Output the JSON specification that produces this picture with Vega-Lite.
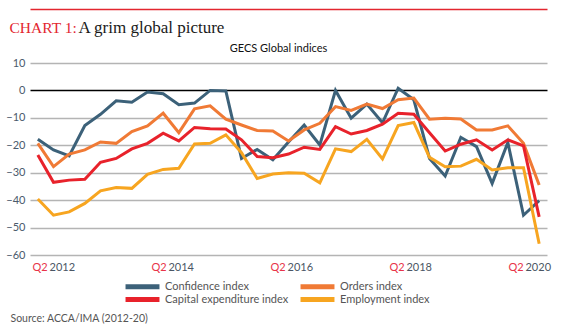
{
  "$schema": "https://vega.github.io/schema/vega-lite/v6.json",
  "autosize": {"type": "none"},
  "width": 517,
  "height": 192,
  "padding": {"left": 30, "top": 63, "right": 21, "bottom": 81},
  "background": "white",
  "config": {"view": {"stroke": null}},
  "data": {"values": [
    {"q": 0, "quarter": "Q2 2012", "Confidence index": -17.8, "Orders index": -19.3, "Capital expenditure index": -23.5, "Employment index": -39.6},
    {"q": 1, "quarter": "Q3 2012", "Confidence index": -21.7, "Orders index": -27.8, "Capital expenditure index": -33.5, "Employment index": -45.5},
    {"q": 2, "quarter": "Q4 2012", "Confidence index": -23.9, "Orders index": -23.2, "Capital expenditure index": -32.7, "Employment index": -44.3},
    {"q": 3, "quarter": "Q1 2013", "Confidence index": -12.8, "Orders index": -21.7, "Capital expenditure index": -32.4, "Employment index": -41.2},
    {"q": 4, "quarter": "Q2 2013", "Confidence index": -8.7, "Orders index": -18.8, "Capital expenditure index": -26.2, "Employment index": -36.6},
    {"q": 5, "quarter": "Q3 2013", "Confidence index": -3.8, "Orders index": -19.3, "Capital expenditure index": -24.8, "Employment index": -35.4},
    {"q": 6, "quarter": "Q4 2013", "Confidence index": -4.3, "Orders index": -15.0, "Capital expenditure index": -21.3, "Employment index": -35.7},
    {"q": 7, "quarter": "Q1 2014", "Confidence index": -0.6, "Orders index": -12.9, "Capital expenditure index": -19.3, "Employment index": -30.6},
    {"q": 8, "quarter": "Q2 2014", "Confidence index": -1.2, "Orders index": -8.3, "Capital expenditure index": -15.6, "Employment index": -28.8},
    {"q": 9, "quarter": "Q3 2014", "Confidence index": -5.2, "Orders index": -15.4, "Capital expenditure index": -18.4, "Employment index": -28.4},
    {"q": 10, "quarter": "Q4 2014", "Confidence index": -4.6, "Orders index": -6.7, "Capital expenditure index": -13.5, "Employment index": -19.5},
    {"q": 11, "quarter": "Q1 2015", "Confidence index": 0.0, "Orders index": -5.6, "Capital expenditure index": -14.0, "Employment index": -19.3},
    {"q": 12, "quarter": "Q2 2015", "Confidence index": -0.2, "Orders index": -10.5, "Capital expenditure index": -14.1, "Employment index": -16.2},
    {"q": 13, "quarter": "Q3 2015", "Confidence index": -24.8, "Orders index": -12.6, "Capital expenditure index": -18.0, "Employment index": -22.7},
    {"q": 14, "quarter": "Q4 2015", "Confidence index": -21.5, "Orders index": -14.6, "Capital expenditure index": -24.1, "Employment index": -32.1},
    {"q": 15, "quarter": "Q1 2016", "Confidence index": -25.3, "Orders index": -14.8, "Capital expenditure index": -24.5, "Employment index": -30.5},
    {"q": 16, "quarter": "Q2 2016", "Confidence index": -18.8, "Orders index": -18.4, "Capital expenditure index": -23.2, "Employment index": -30.0},
    {"q": 17, "quarter": "Q3 2016", "Confidence index": -12.6, "Orders index": -14.4, "Capital expenditure index": -20.7, "Employment index": -30.2},
    {"q": 18, "quarter": "Q4 2016", "Confidence index": -19.9, "Orders index": -12.0, "Capital expenditure index": -21.5, "Employment index": -33.7},
    {"q": 19, "quarter": "Q1 2017", "Confidence index": 0.0, "Orders index": -5.9, "Capital expenditure index": -13.2, "Employment index": -21.3},
    {"q": 20, "quarter": "Q2 2017", "Confidence index": -10.1, "Orders index": -7.3, "Capital expenditure index": -15.9, "Employment index": -22.3},
    {"q": 21, "quarter": "Q3 2017", "Confidence index": -5.0, "Orders index": -5.0, "Capital expenditure index": -14.6, "Employment index": -17.8},
    {"q": 22, "quarter": "Q4 2017", "Confidence index": -11.8, "Orders index": -6.6, "Capital expenditure index": -12.3, "Employment index": -25.0},
    {"q": 23, "quarter": "Q1 2018", "Confidence index": 0.8, "Orders index": -3.4, "Capital expenditure index": -8.3, "Employment index": -12.8},
    {"q": 24, "quarter": "Q2 2018", "Confidence index": -3.4, "Orders index": -2.8, "Capital expenditure index": -8.7, "Employment index": -11.7},
    {"q": 25, "quarter": "Q3 2018", "Confidence index": -24.8, "Orders index": -10.5, "Capital expenditure index": -15.4, "Employment index": -24.4},
    {"q": 26, "quarter": "Q4 2018", "Confidence index": -31.2, "Orders index": -10.1, "Capital expenditure index": -22.1, "Employment index": -27.8},
    {"q": 27, "quarter": "Q1 2019", "Confidence index": -17.1, "Orders index": -10.4, "Capital expenditure index": -19.6, "Employment index": -27.6},
    {"q": 28, "quarter": "Q2 2019", "Confidence index": -20.5, "Orders index": -14.4, "Capital expenditure index": -18.0, "Employment index": -25.1},
    {"q": 29, "quarter": "Q3 2019", "Confidence index": -33.9, "Orders index": -14.4, "Capital expenditure index": -21.7, "Employment index": -29.0},
    {"q": 30, "quarter": "Q4 2019", "Confidence index": -19.0, "Orders index": -12.9, "Capital expenditure index": -18.0, "Employment index": -28.2},
    {"q": 31, "quarter": "Q1 2020", "Confidence index": -45.5, "Orders index": -19.3, "Capital expenditure index": -20.2, "Employment index": -28.2},
    {"q": 32, "quarter": "Q2 2020", "Confidence index": -40.2, "Orders index": -34.5, "Capital expenditure index": -46.1, "Employment index": -55.9}
  ]},
  "transform": [
    {"fold": ["Confidence index", "Orders index", "Capital expenditure index", "Employment index"], "as": ["series", "value"]}
  ],
  "layer": [
    {
      "mark": {"type": "line", "strokeWidth": 3, "strokeJoin": "miter"},
      "encoding": {
        "x": {
          "field": "q", "type": "quantitative",
          "scale": {"domain": [-0.5, 32.5], "nice": false, "zero": false},
          "axis": {
            "orient": "bottom",
            "values": [-0.37, 7.22, 14.82, 22.41, 30.01],
            "labelExpr": "'Q2'",
            "labelAlign": "left", "labelFlush": false, "labelOverlap": false, "labelBound": false,
            "labelColor": "#e8334a", "labelFont": "Lato", "labelFontSize": 11, "labelPadding": 6,
            "ticks": false, "domain": false, "grid": false,
            "title": "Source: ACCA/IMA (2012-20)",
            "titleX": -20, "titleY": 66, "titleAlign": "left", "titleBaseline": "alphabetic", "titleAnchor": null,
            "titleFont": "Lato", "titleFontSize": 10.5, "titleFontWeight": "normal", "titleColor": "#555555"
          }
        },
        "y": {
          "field": "value", "type": "quantitative",
          "scale": {"domain": [-60, 10], "nice": false, "zero": false},
          "axis": {
            "values": [-60, -50, -40, -30, -20, -10, 0, 10],
            "grid": true,
            "gridColor": {"condition": {"test": "datum.value === 0", "value": "#000000"}, "value": "#b4b4b4"},
            "gridWidth": 1.5,
            "ticks": false, "domain": false,
            "labelPadding": 5, "labelColor": "#4a5a6c", "labelFont": "Lato", "labelFontSize": 11,
            "title": "CHART 1:", "titleAngle": 0, "titleX": -21, "titleY": -31,
            "titleAlign": "left", "titleBaseline": "alphabetic", "titleAnchor": null,
            "titleColor": "#e3262f", "titleFont": "Liberation Serif", "titleFontSize": 15.5, "titleFontWeight": "normal"
          }
        },
        "color": {
          "field": "series", "type": "nominal",
          "scale": {
            "domain": ["Confidence index", "Orders index", "Capital expenditure index", "Employment index"],
            "range": ["#3c6179", "#f07a35", "#e8222b", "#f7a520"]
          },
          "legend": {
            "orient": "none", "legendX": 107, "legendY": 218,
            "direction": "horizontal", "columns": 2, "title": null,
            "symbolType": "M-6,-0.85H6V0.85H-6Z", "symbolSize": 32, "symbolStrokeWidth": 0,
            "labelFont": "Lato", "labelFontSize": 11, "labelColor": "#555555", "labelOffset": 17,
            "columnPadding": 11, "rowPadding": 1,
            "encode": {"symbols": {"update": {"fill": {"scale": "color", "field": "value"}, "fillOpacity": {"value": 1}, "strokeWidth": {"value": 0}}}}
          }
        }
      }
    },
    {
      "mark": {"type": "line", "opacity": 0},
      "encoding": {
        "x": {
          "field": "q", "type": "quantitative",
          "axis": {
            "orient": "bottom",
            "values": [-0.37, 7.22, 14.82, 22.41, 30.01],
            "labelExpr": "['2012','2014','2016','2018','2020'][round((datum.value + 0.37) / 7.595)]",
            "labelAlign": "left", "labelOffset": 17, "labelFlush": false, "labelOverlap": false, "labelBound": false,
            "labelColor": "#4a5664", "labelFont": "Lato", "labelFontSize": 11, "labelPadding": 6,
            "ticks": false, "domain": false, "grid": false, "title": null
          }
        },
        "y": {
          "field": "value", "type": "quantitative",
          "axis": {
            "orient": "right", "labels": false, "ticks": false, "domain": false, "grid": false,
            "title": "GECS Global indices", "titleAngle": 0, "titleX": -269, "titleY": -12,
            "titleAlign": "center", "titleBaseline": "alphabetic", "titleAnchor": null,
            "titleFont": "Lato", "titleFontSize": 11, "titleFontWeight": "normal", "titleColor": "#111111"
          }
        },
        "detail": {"field": "series"}
      }
    },
    {
      "mark": {"type": "line", "opacity": 0},
      "encoding": {
        "x": {
          "field": "q", "type": "quantitative",
          "axis": {
            "orient": "top", "offset": 54, "labels": false, "ticks": false, "grid": false,
            "domain": true, "domainColor": "#e3262f", "domainWidth": 1.5,
            "title": "A grim global picture", "titleX": 48, "titleY": 23,
            "titleAlign": "left", "titleBaseline": "alphabetic", "titleAnchor": null,
            "titleFont": "Liberation Serif", "titleFontSize": 17, "titleFontWeight": "normal", "titleColor": "#1a1a1a"
          }
        },
        "y": {"field": "value", "type": "quantitative", "axis": null},
        "detail": {"field": "series"}
      }
    }
  ],
  "resolve": {"axis": {"x": "independent", "y": "independent"}}
}
